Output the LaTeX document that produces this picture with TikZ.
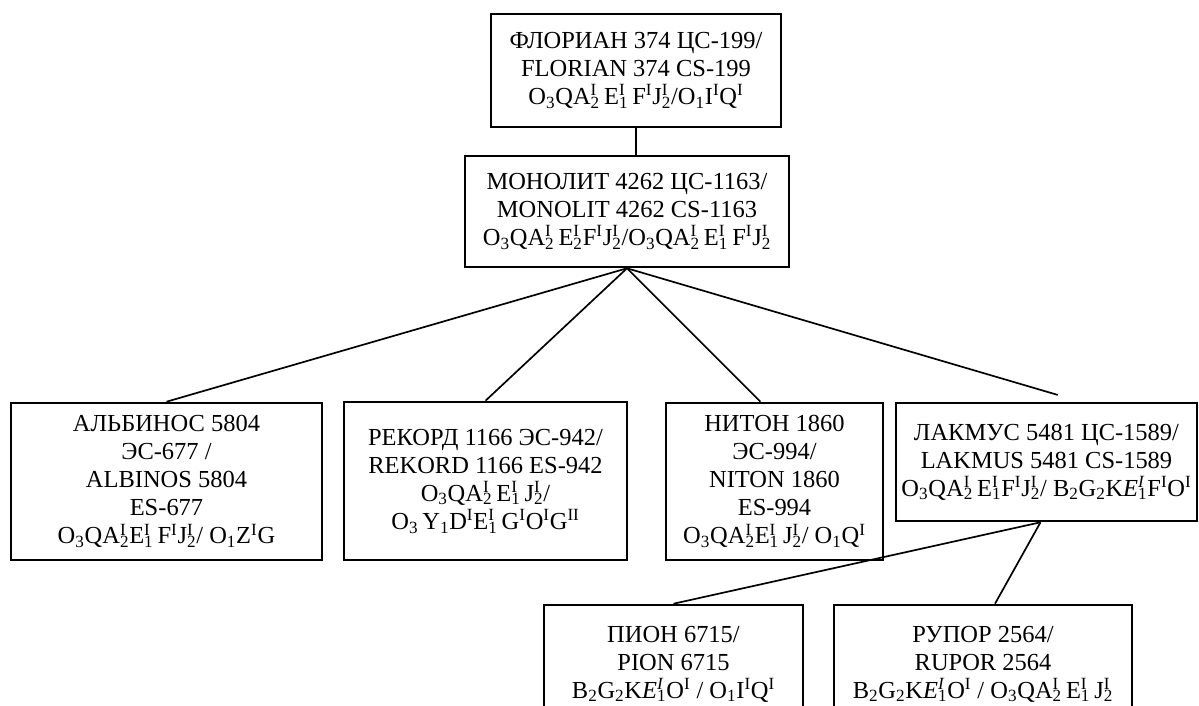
\documentclass[tikz,border=0pt]{standalone}
\usepackage{fontspec}
\setmainfont{Liberation Serif}
\usetikzlibrary{positioning}
% sup over sub, as in the variety formulas
\newcommand{\supsub}[2]{\rlap{\textsuperscript{#1}}\textsubscript{#2}}
\tikzset{
  box/.style={draw, line width=1.8pt, align=center, inner sep=0pt,
    font=\fontsize{17.4}{20}\selectfont},
  link/.style={line width=1.2pt},
}
\begin{document}
\begin{tikzpicture}[x=0.025cm, y=-0.025cm]
\path[use as bounding box, clip] (0,0) rectangle (1199,705);
\node[box, minimum width=7.25cm, minimum height=2.825cm] (flor) at (636,70.5)
  {ФЛОРИАН 374 ЦС-199/\\ FLORIAN 374 CS-199\\
   O\textsubscript{3}QA\supsub{I}{2}\,E\supsub{I}{1}\,F\textsuperscript{I}J\supsub{I}{2}/O\textsubscript{1}I\textsuperscript{I}Q\textsuperscript{I}};
\node[box, minimum width=8.1cm, minimum height=2.775cm] (mono) at (627,211.5)
  {МОНОЛИТ 4262 ЦС-1163/\\ MONOLIT 4262 CS-1163\\
   O\textsubscript{3}QA\supsub{I}{2}\,E\supsub{I}{2}F\textsuperscript{I}J\supsub{I}{2}/O\textsubscript{3}QA\supsub{I}{2}\,E\supsub{I}{1}\,F\textsuperscript{I}J\supsub{I}{2}};
\node[box, minimum width=7.775cm, minimum height=3.925cm] (albi) at (166.5,481.5)
  {АЛЬБИНОС 5804\\ ЭС-677 /\\ ALBINOS 5804\\ ES-677\\
   O\textsubscript{3}QA\supsub{I}{2}E\supsub{I}{1}\,F\textsuperscript{I}J\supsub{I}{2}/ O\textsubscript{1}Z\textsuperscript{I}G};
\node[box, minimum width=7.075cm, minimum height=3.95cm] (reko) at (485.5,481)
  {РЕКОРД 1166 ЭС-942/\\ REKORD 1166 ES-942\\
   O\textsubscript{3}QA\supsub{I}{2}\,E\supsub{I}{1}\,J\supsub{I}{2}/\\
   O\textsubscript{3}\,Y\textsubscript{1}D\textsuperscript{I}E\supsub{I}{1}\,G\textsuperscript{I}O\textsuperscript{I}G\textsuperscript{II}};
\node[box, minimum width=5.425cm, minimum height=3.925cm] (nito) at (774.5,481.5)
  {НИТОН 1860\\ ЭС-994/\\ NITON 1860\\ ES-994\\
   O\textsubscript{3}QA\supsub{I}{2}E\supsub{I}{1}\,J\supsub{I}{2}/ O\textsubscript{1}Q\textsuperscript{I}};
\node[box, minimum width=7.525cm, minimum height=2.95cm] (lakm) at (1046.5,462)
  {ЛАКМУС 5481 ЦС-1589/\\ LAKMUS 5481 CS-1589\\
   O\textsubscript{3}QA\supsub{I}{2}\,E\supsub{I}{1}F\textsuperscript{I}J\supsub{I}{2}/ B\textsubscript{2}G\textsubscript{2}K\textit{E}\supsub{\textit{I}}{1}F\textsuperscript{I}O\textsuperscript{I}};
\node[box, minimum width=6.475cm, minimum height=2.95cm] (pion) at (673.5,664)
  {ПИОН 6715/\\ PION 6715\\
   B\textsubscript{2}G\textsubscript{2}K\textit{E}\supsub{\textit{I}}{1}O\textsuperscript{I} / O\textsubscript{1}I\textsuperscript{I}Q\textsuperscript{I}};
\node[box, minimum width=7.45cm, minimum height=2.95cm] (rupo) at (983,664)
  {РУПОР 2564/\\ RUPOR 2564\\
   B\textsubscript{2}G\textsubscript{2}K\textit{E}\supsub{\textit{I}}{1}O\textsuperscript{I} / O\textsubscript{3}QA\supsub{I}{2}\,E\supsub{I}{1}\,J\supsub{I}{2}};
% connectors
\draw[link] (flor.south) -- (flor.south |- mono.north);
\draw[link] (mono.south) -- (albi.north);
\draw[link] (mono.south) -- (reko.north);
\draw[link] (mono.south) -- ([xshift=-0.35cm]nito.north);
\draw[link] (mono.south) -- ([xshift=0.28cm, yshift=0.17cm]lakm.north);
\draw[link] ([xshift=-0.15cm]lakm.south) -- (pion.north);
\draw[link] ([xshift=-0.15cm]lakm.south) -- ([xshift=0.3cm]rupo.north);
\end{tikzpicture}
\end{document}
